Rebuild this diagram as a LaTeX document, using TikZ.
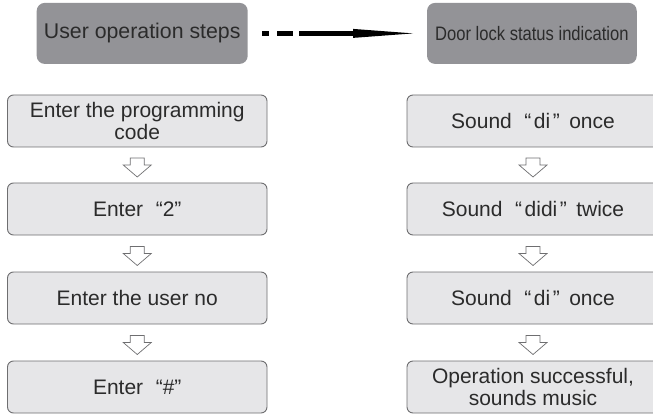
\documentclass[tikz,border=0pt]{standalone}
\usepackage{fontspec}
\setmainfont{Liberation Sans}
\usetikzlibrary{calc}
\definecolor{hdrfill}{HTML}{939397}
\definecolor{boxfill}{HTML}{E6E6E8}
\definecolor{boxline}{HTML}{6E6E70}
\definecolor{txt}{HTML}{2B2B2B}
\newcommand\qgap{\hspace{0.6em}}
\newcommand\qgapb{\hspace{0.45em}}
\begin{document}
\begin{tikzpicture}[x=1pt,y=-1pt,
  hdr/.style={fill=hdrfill, rounded corners=8pt, minimum height=61pt, text=txt, inner sep=0pt},
  stepbox/.style={fill=boxfill, draw=boxline, line width=0.9pt, rounded corners=6pt, minimum height=52pt, inner sep=0pt, text=txt, font=\fontsize{21}{22}\selectfont, align=center},
  lbox/.style={stepbox, minimum width=259.5pt},
  rbox/.style={stepbox, minimum width=252pt},
  darr/.pic={\draw[boxline, fill=white, line width=0.7pt] (-7,-8) -- (7,-8) -- (7,-1) -- (14,-1) -- (0,11) -- (-14,-1) -- (-7,-1) -- cycle;}
]
\useasboundingbox (0,0) rectangle (653,414);
% headers
\node[hdr, minimum width=211pt, font=\fontsize{21.3}{22}\selectfont] (hl) at (142.2,33.4) {User operation steps};
\node[hdr, minimum width=209.7pt, font=\fontsize{19.5}{22}\selectfont] (hr) at (531.9,33.4) {\scalebox{0.85}[1]{Door lock status indication}};
% header arrow
\coordinate (a0) at (262,33.4);
\coordinate (a1) at (413,33.4);
\fill[black] ($(a0)+(0,-2.5)$) rectangle ($(a0)+(7,2.5)$);
\fill[black] ($(a0)+(15,-2.5)$) rectangle ($(a0)+(31,2.5)$);
\fill[black] ($(a0)+(37,-2.5)$) rectangle ($(a0)+(92,2.5)$);
\fill[black] ($(a0)+(91,-4.5)$) -- (a1) -- ($(a0)+(91,4.5)$) -- cycle;
% left column
\node[lbox] (l1) at (137.25,121) {Enter the programming\\code};
\node[lbox] (l2) at (137.25,209) {Enter\qgap“2”};
\node[lbox] (l3) at (137.25,298) {Enter the user no};
\node[lbox] (l4) at (137.25,387) {Enter\qgap“\#”};
% right column
\node[rbox] (r1) at (533,121) {Sound\qgap“\hspace{0.12em}di\hspace{0.12em}”\qgapb once};
\node[rbox] (r2) at (533,209) {Sound\qgap“\hspace{0.12em}didi\hspace{0.12em}”\qgapb twice};
\node[rbox] (r3) at (533,298) {Sound\qgap“\hspace{0.12em}di\hspace{0.12em}”\qgapb once};
\node[rbox] (r4) at (533,387) {Operation successful,\\sounds music};
% down arrows
\foreach \a/\b in {l1/l2,l2/l3,l3/l4,r1/r2,r2/r3,r3/r4}{
  \pic at ($(\a.south)!0.5!(\b.north)+(0,1)$) {darr};
}
\end{tikzpicture}
\end{document}
